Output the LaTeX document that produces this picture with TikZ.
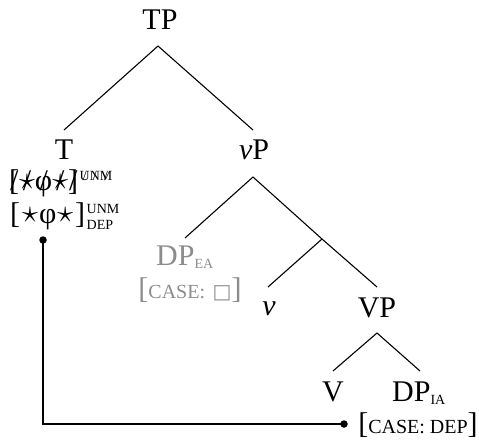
\documentclass[tikz,border=0pt]{standalone}
\usepackage{fontspec}
\usepackage{graphicx}
\setmainfont{Liberation Serif}
\newfontfamily\djv{DejaVu Sans}
\usetikzlibrary{calc}
\newcommand\smc[1]{{\fontsize{20}{22}\selectfont #1}}
\newcommand\supsc[1]{\mbox{\fontsize{14}{15}\selectfont #1}}
\newcommand\subsc[1]{\mbox{\fontsize{14}{15}\selectfont #1}}
\newcommand\strk[1]{\ooalign{#1\cr\hidewidth/\hidewidth\cr}}
\newcommand\bigstar{\raisebox{1pt}{\scalebox{1.3}{$\star$}}}
\definecolor{eagray}{gray}{0.55}
\begin{document}
\begin{tikzpicture}[x=1pt,y=-1pt,
  lab/.style={anchor=base,inner sep=0pt,font=\fontsize{30}{34}\selectfont},
  branch/.style={line width=1.1pt},
  dotc/.style={fill=black,circle,inner sep=0pt,minimum size=7.5pt}]
\useasboundingbox (0,0) rectangle (479,441);
\node[lab] (TP) at (160,30) {TP};
\node[lab] (T) at (64,159) {T};
\node[lab] (vP) at (254,160) {\textit{v}P};
\node[lab] (f1) at (61,190) {\strk{[}\strk{\bigstar}\strk{φ}\strk{\bigstar}\strk{]}\kern1.5pt$^{\supsc{\strk{U}\strk{N}\strk{M}}}$};
\node[lab] (f2) at (65,223) {[\kern2pt\bigstar\kern1pt φ\kern1pt\bigstar\kern2pt]\kern1.5pt$^{\supsc{UNM}}_{\supsc{DEP}}$};
\node[lab,text=eagray] (DPEA) at (185,265) {DP$_{\subsc{EA}}$};
\node[lab,text=eagray] (caseEA) at (190,298) {[\smc{CASE:} {\djv\fontsize{20}{22}\selectfont □}]};
\node[lab] (v) at (269,315) {\textit{v}};
\node[lab] (VP) at (377,317) {VP};
\node[lab] (V) at (333,401) {V};
\node[lab] (DPIA) at (419,401) {DP$_{\subsc{IA}}$};
\node[lab] (caseIA) at (418,433) {[\smc{CASE: DEP}]};
\coordinate (vbar) at (322,239);
\draw[branch] ($(TP.base)+(-2,16)$) -- ($(T.base)+(0,-29)$);
\draw[branch] ($(TP.base)+(-2,16)$) -- ($(vP.base)+(-1,-30)$);
\draw[branch] ($(vP.base)+(-1,17)$) -- ($(DPEA.base)+(0,-27)$);
\draw[branch] ($(vP.base)+(-1,17)$) -- (vbar) -- ($(VP.base)+(0,-30)$);
\draw[branch] (vbar) -- ($(v.base)+(-1,-28)$);
\draw[branch] ($(VP.base)+(0,16)$) -- ($(V.base)+(0,-30)$);
\draw[branch] ($(VP.base)+(0,16)$) -- ($(DPIA.base)+(1,-30)$);
\node[dotc] (tdot) at ($(f2.base)+(-22,17)$) {};
\node[dotc] (bdot) at ($(caseIA.base)+(-74,-9)$) {};
\draw[branch] (tdot.center) |- (bdot.center);
\end{tikzpicture}
\end{document}
